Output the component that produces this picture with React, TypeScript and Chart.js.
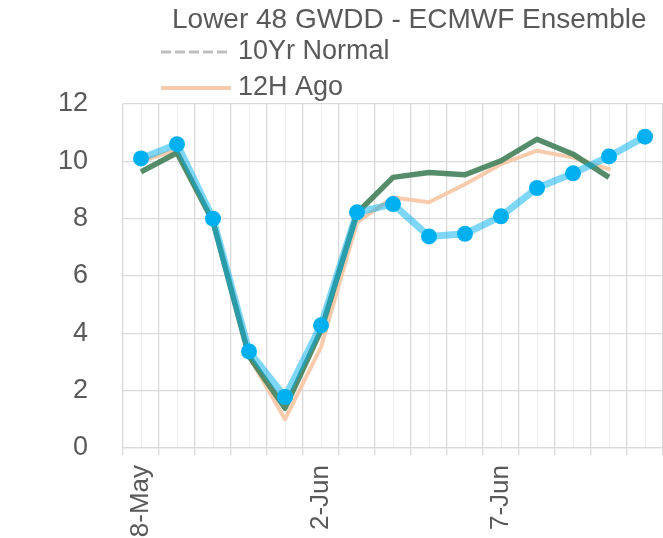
import React, { useEffect, useRef } from "react";
import { Chart, registerables } from "chart.js";

Chart.register(...registerables);

const TITLE = "Lower 48 GWDD - ECMWF Ensemble";
const categories = [
  "28-May", "29-May", "30-May", "31-May", "1-Jun", "2-Jun", "3-Jun", "4-Jun",
  "5-Jun", "6-Jun", "7-Jun", "8-Jun", "9-Jun", "10-Jun", "11-Jun",
];
const normal10yr: (number | null)[] = categories.map(() => null);
const ago12h: (number | null)[] = [10.0, 10.4, 7.9, 3.2, 1.0, 3.52, 7.87, 8.74, 8.57, 9.2, 9.9, 10.37, 10.13, 9.73, null];
const priorRun: (number | null)[] = [9.63, 10.3, 7.9, 3.2, 1.39, 4.1, 8.2, 9.44, 9.61, 9.53, 10.02, 10.77, 10.25, 9.44, null];
const latest: number[] = [10.1, 10.6, 8.0, 3.37, 1.78, 4.28, 8.22, 8.51, 7.38, 7.47, 8.08, 9.07, 9.58, 10.17, 10.86];
const yTicks = [0, 2, 4, 6, 8, 10, 12];

const FONT = '"Liberation Sans", Arial, sans-serif';
const TEXT = "#595959";

const headerPlugin = {
  id: "header",
  afterDraw(chart: any) {
    const ctx = chart.ctx;
    ctx.save();
    ctx.fillStyle = TEXT;
    ctx.textBaseline = "middle";
    ctx.textAlign = "left";
    ctx.font = `28px ${FONT}`;
    ctx.fillText(TITLE, 172, 20);
    const items = [
      { ds: chart.data.datasets[0], y: 52 },
      { ds: chart.data.datasets[1], y: 88 },
    ];
    ctx.font = `27px ${FONT}`;
    items.forEach((it) => {
      ctx.beginPath();
      ctx.strokeStyle = it.ds.borderColor;
      ctx.lineWidth = it.ds.legendWidth;
      ctx.setLineDash(it.ds.borderDash || []);
      ctx.moveTo(161, it.y);
      ctx.lineTo(231, it.y);
      ctx.stroke();
      ctx.setLineDash([]);
      ctx.fillStyle = TEXT;
      ctx.fillText(it.ds.label, 238, it.y);
    });
    ctx.restore();
  },
};

const noPad = (s: any) => {
  s.paddingLeft = 0;
  s.paddingRight = 0;
};

export default function App() {
  const ref = useRef<HTMLCanvasElement>(null);
  useEffect(() => {
    document.body.style.margin = "0";
    const chart = new Chart(ref.current!, {
      type: "line",
      data: {
        labels: categories,
        datasets: [
          {
            label: "10Yr Normal",
            data: normal10yr,
            borderColor: "#BFBFBF",
            borderDash: [10, 4],
            borderWidth: 3,
            legendWidth: 3,
            pointRadius: 0,
            order: 4,
          } as any,
          {
            label: "12H Ago",
            data: ago12h,
            borderColor: "#F8CBAD",
            borderWidth: 4,
            legendWidth: 4,
            pointRadius: 0,
            borderJoinStyle: "round",
            borderCapStyle: "round",
            order: 3,
          } as any,
          {
            label: "Prior Run",
            data: priorRun,
            borderColor: "rgba(62,125,85,0.88)",
            borderWidth: 5.5,
            pointRadius: 0,
            borderJoinStyle: "round",
            order: 2,
          } as any,
          {
            label: "Latest",
            data: latest,
            borderColor: "rgba(0,176,240,0.5)",
            borderWidth: 7,
            pointRadius: 8,
            pointBackgroundColor: "#00B0F0",
            pointBorderWidth: 0,
            borderJoinStyle: "round",
            order: 1,
          } as any,
        ],
      },
      options: {
        animation: false,
        responsive: false,
        devicePixelRatio: 1,
        layout: { autoPadding: false, padding: { top: 104, left: 0, right: 0, bottom: 0 } },
        plugins: { legend: { display: false }, title: { display: false }, tooltip: { enabled: false } },
        scales: {
          x: {
            type: "category",
            offset: true,
            grid: { offset: true, color: "#D9D9D9", lineWidth: 1.3, tickLength: 7, drawTicks: true },
            border: { color: "#D9D9D9", width: 1.3 },
            ticks: {
              autoSkip: false,
              maxRotation: 90,
              minRotation: 90,
              padding: 10,
              color: TEXT,
              font: { family: FONT, size: 26 },
              callback: (_v: any, i: number) => (i % 5 === 0 ? categories[i] : ""),
            },
            afterFit: (s: any) => {
              s.height = 90;
              noPad(s);
            },
          },
          x2: {
            type: "category",
            position: "bottom",
            offset: true,
            grid: { offset: false, color: "#EFEFEF", lineWidth: 1, drawTicks: false },
            border: { display: false },
            ticks: { display: false },
            afterFit: (s: any) => {
              s.height = 0;
              noPad(s);
            },
          },
          y: {
            min: 0,
            max: 12,
            afterBuildTicks: (s: any) => {
              s.ticks = yTicks.map((v) => ({ value: v }));
            },
            grid: { color: "#D9D9D9", lineWidth: 1.3, drawTicks: false },
            border: { display: false },
            ticks: { padding: 35, color: TEXT, font: { family: FONT, size: 27 } },
            afterFit: (s: any) => {
              s.width = 123;
            },
          },
        },
      } as any,
      plugins: [headerPlugin],
    });
    return () => chart.destroy();
  }, []);
  return (
    <div style={{ width: 663, height: 538 }}>
      <canvas ref={ref} width={663} height={538} style={{ display: "block" }} />
    </div>
  );
}
